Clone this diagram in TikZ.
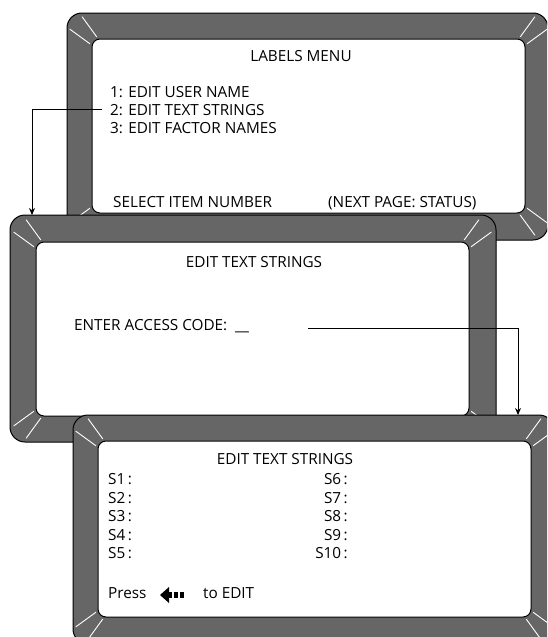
\documentclass[tikz,border=0pt]{standalone}
\usepackage{fontspec}
\setmainfont{Open Sans}
\usetikzlibrary{arrows.meta}
\definecolor{bezelgray}{HTML}{666666}

\newcommand\glints[3]{%
  \draw[glint,shift={(#1,#2)}] (#3-9:31) -- (#3-9:56) (#3+9:31) -- (#3+9:56);}

\begin{document}
\begin{tikzpicture}[x=1pt,y=-1pt,
  every node/.style={font=\fontsize{15.3}{18}\selectfont,inner sep=0pt},
  bezel/.style={fill=bezelgray,draw=black,line width=1pt,rounded corners=15pt},
  screen/.style={fill=white,draw=black,line width=1pt,rounded corners=8pt},
  glint/.style={white,line width=0.9pt},
  link/.style={draw=black,line width=0.9pt,-{Stealth[length=7pt,width=6pt]}},
  lbl/.style={anchor=base west},
  rlbl/.style={anchor=base east},
  title/.style={anchor=base}]
\useasboundingbox (0,0) rectangle (547,637);
\clip (0,0) rectangle (547,637);

\draw[bezel] (67,13) rectangle (548,240);
\glints{115}{62}{225}
\glints{502}{62}{315}
\glints{502}{190}{45}
\glints{115}{190}{135}
\draw[screen] (92,39) rectangle (525,213);
\node[title] (labmenu) at (301,61) {LABELS MENU};
\node[lbl] (item1) at (110,97) {1: EDIT USER NAME};
\node[lbl] (item2) at (110,115) {2: EDIT TEXT STRINGS};
\node[lbl] (item3) at (110,133) {3: EDIT FACTOR NAMES};
\node[lbl] (select) at (113,207) {SELECT ITEM NUMBER};
\node[lbl] (nextpg) at (328,207) {(NEXT PAGE: STATUS)};

\coordinate (accessin) at (32,215);
\draw[link] ([xshift=-8pt]item2.west) -| (accessin);

\draw[bezel] (10,215) rectangle (496,442);
\glints{59}{265}{225}
\glints{446}{265}{315}
\glints{446}{393}{45}
\glints{59}{393}{135}
\draw[screen] (36,242) rectangle (469,416);
\node[title] (access) at (254,267) {EDIT TEXT STRINGS};
\node[lbl] (code) at (74,330) {ENTER ACCESS CODE:\ \ \_\_};

\coordinate (codeout) at (308,328);
\coordinate (stringsin) at (518,415);
\draw[link] (codeout) -| (stringsin);

\draw[bezel] (73,415) rectangle (554,644);
\glints{121}{464}{225}
\glints{508}{464}{315}
\glints{508}{594}{45}
\glints{121}{594}{135}
\draw[screen] (98,441) rectangle (531,617);
\node[title] (strings) at (285,464) {EDIT TEXT STRINGS};
\foreach \i in {1,...,5} {
  \node[lbl] (s\i) at (108,465.9+18.6*\i) {S\i\,:};
  \pgfmathtruncatemacro\j{\i+5}
  \node[rlbl] (s\j) at (348,465.9+18.6*\i) {S\j\,:};
}
\node[lbl] (press) at (108,598) {Press};
\fill (160,595) -- (169,587) -- (169,603) -- cycle;
\fill (168,592) rectangle (172,598);
\fill (174,592) rectangle (177.5,598);
\fill (180,592) rectangle (183.5,598);
\node[lbl] (toedit) at (203,598) {to EDIT};
\end{tikzpicture}
\end{document}
